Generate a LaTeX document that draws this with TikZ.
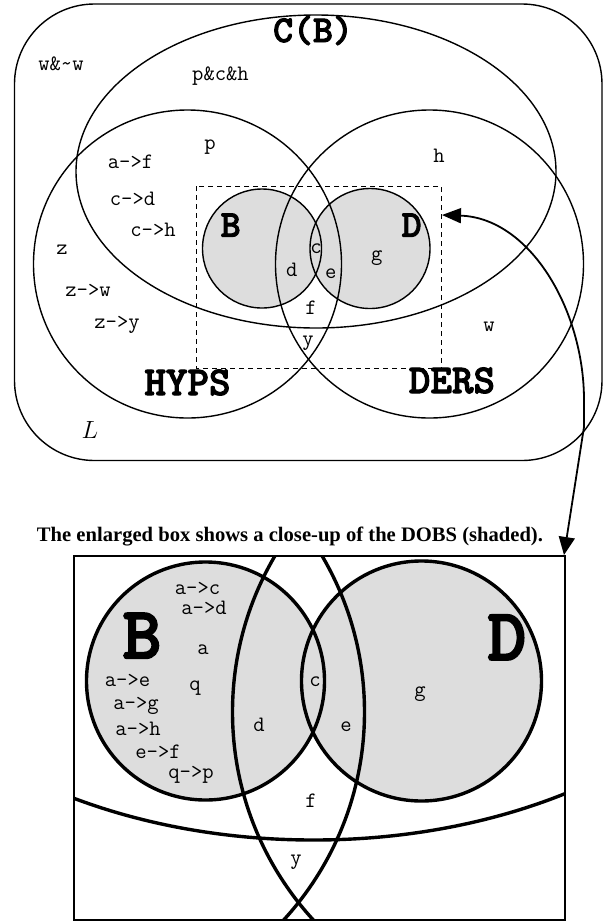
\documentclass[tikz,border=0pt]{standalone}
\usepackage{fontspec}
\usepackage{graphicx}
\usetikzlibrary{arrows.meta}
\newfontfamily\boldtt[FakeBold=2.5]{lmmonolt10-bold.otf}
\newfontfamily\seriffnt{Liberation Serif}
\definecolor{dobsgray}{RGB}{221,221,221}
\newcommand\vennshapes{%
  \fill[dobsgray] (262,248.5) circle[radius=59.5];
  \fill[dobsgray] (370,248.5) circle[radius=60];
  \draw (262,248.5) circle[radius=59.5];
  \draw (370,248.5) circle[radius=60];
  \draw (187.5,264) circle[radius=154];
  \draw (429.5,264) circle[radius=154];
  \draw (316,171.5) ellipse[x radius=240, y radius=156.5];
}
\begin{document}
\begin{tikzpicture}[x=1pt,y=-1pt,
  lab/.style={font=\ttfamily\fontsize{22}{22}\selectfont, anchor=base, inner sep=0pt},
  setlab/.style={font=\boldtt\fontsize{41}{41}\selectfont, anchor=base, inner sep=0pt},
  midlab/.style={font=\boldtt\fontsize{38}{38}\selectfont, anchor=base, inner sep=0pt},
  hugelab/.style={font=\boldtt\fontsize{74}{74}\selectfont, anchor=base, inner sep=0pt}]
\useasboundingbox (0,0) rectangle (606,922);
\fill[white] (0,0) rectangle (606,922);

% ---------- top diagram ----------
\draw[line width=1.4pt, rounded corners=80pt] (14.5,4) rectangle (602,460.5);
\begin{scope}[line width=1.4pt]
  \vennshapes
\end{scope}
\draw[line width=1pt, dash pattern=on 5pt off 4pt] (196,186) rectangle (441,368);

\node[midlab] (cb) at (313,42) {C(B)};
\node[setlab] (hyps) at (187.5,395) {HYPS};
\node[setlab] (ders) at (452,393) {DERS};
\node[midlab] (bt) at (230.7,236.7) {B};
\node[midlab] (dt) at (411.7,236.7) {D};
\node[anchor=base, inner sep=0pt, font=\fontsize{25}{25}\selectfont] (ll) at (90,438.3) {$L$};

\node[lab] (t1) at (61,70) {w\&\textasciitilde w};
\node[lab] (t2) at (220.5,80) {p\&c\&h};
\node[lab] (t3) at (210,149.5) {p};
\node[lab] (t4) at (130.5,168.3) {a->f};
\node[lab] (t5) at (132.5,205) {c->d};
\node[lab] (t6) at (153,236.7) {c->h};
\node[lab] (t7) at (62,254) {z};
\node[lab] (t8) at (88,296) {z->w};
\node[lab] (t9) at (117,328.3) {z->y};
\node[lab] (t10) at (439,162.7) {h};
\node[lab] (t11) at (489,331.7) {w};
\node[lab] (t12) at (316,253.3) {c};
\node[lab] (t13) at (291.7,276.7) {d};
\node[lab] (t14) at (330.7,278.3) {e};
\node[lab] (t15) at (376.7,260) {g};
\node[lab] (t16) at (311,314.3) {f};
\node[lab] (t17) at (308,345) {y};

% ---------- caption ----------
\node[anchor=base, inner sep=0pt, font=\seriffnt\bfseries\fontsize{20}{20}\selectfont] (cap) at (290,541)
  {\resizebox{506pt}{!}{The enlarged box shows a close-up of the DOBS (shaded).}};

% ---------- bottom close-up ----------
\begin{scope}
  \clip (73.5,556) rectangle (565,920);
  \begin{scope}[shift={(-318.5,184)}, scale=2, line width=3.4pt]
    \vennshapes
  \end{scope}
\end{scope}
\draw[line width=2pt] (73.5,556) rectangle (565,920);

\node[hugelab] (bb) at (142,658.3) {B};
\node[hugelab] (db) at (507,660) {D};
\node[lab] (b1) at (197.5,594.3) {a->c};
\node[lab] (b2) at (204,614.3) {a->d};
\node[lab] (b3) at (203,654.3) {a};
\node[lab] (b4) at (127.5,686.7) {a->e};
\node[lab] (b5) at (195,690.7) {q};
\node[lab] (b6) at (136,709.3) {a->g};
\node[lab] (b7) at (138,735.7) {a->h};
\node[lab] (b8) at (158,758.3) {e->f};
\node[lab] (b9) at (191,778.3) {q->p};
\node[lab] (b10) at (259,731.7) {d};
\node[lab] (b11) at (315,686) {c};
\node[lab] (b12) at (346,731.7) {e};
\node[lab] (b13) at (420,696.7) {g};
\node[lab] (b14) at (311,807.3) {f};
\node[lab] (b15) at (296,864) {y};

% ---------- connector ----------
\coordinate (atop) at (442,215);
\coordinate (abot) at (564,555);
\draw[line width=1.8pt, {Triangle[length=19pt,width=15pt]}-{Triangle[length=18pt,width=16pt]}]
  (atop) .. controls (530,218) and (584,310) .. (584,400) -- (584,427) -- (abot);
\end{tikzpicture}
\end{document}
